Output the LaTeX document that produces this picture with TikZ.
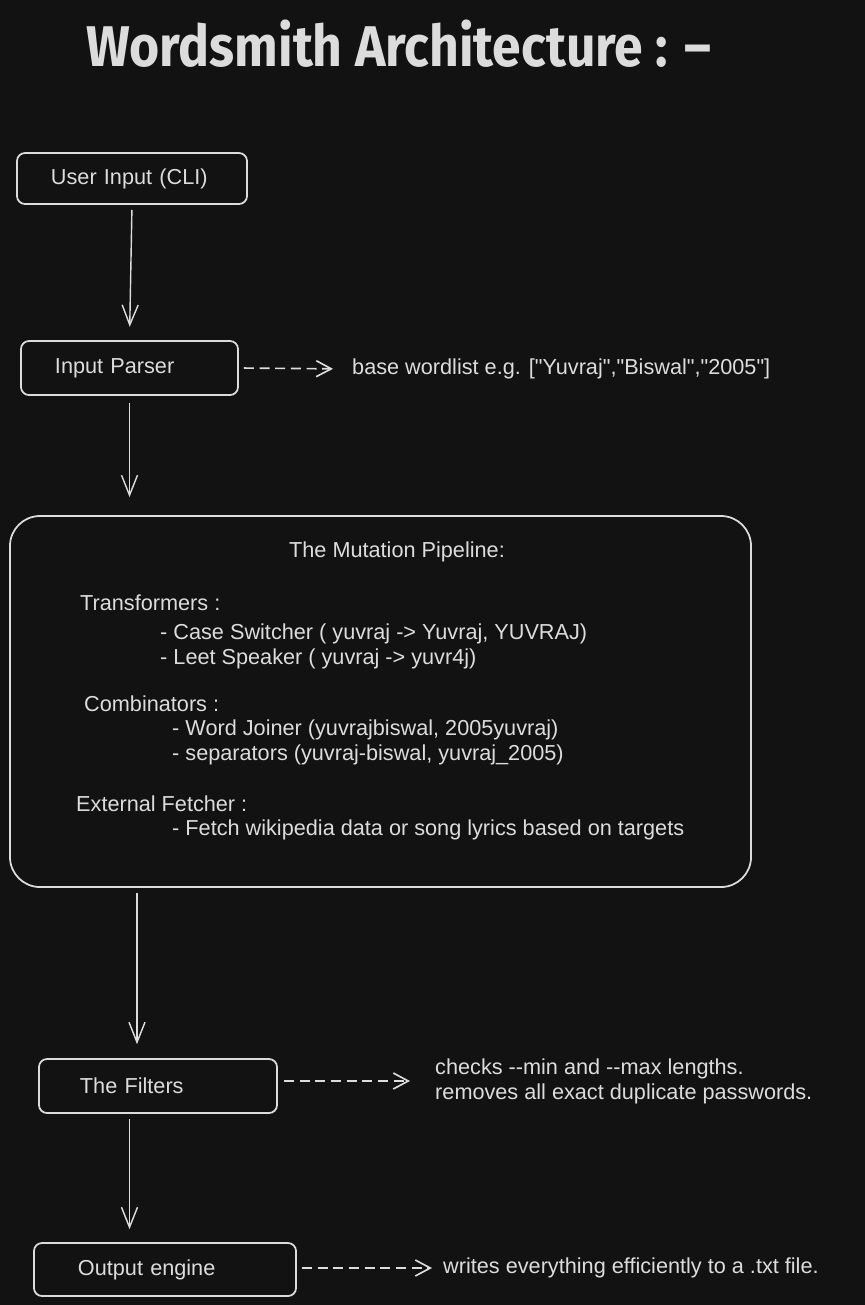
\documentclass[tikz,border=0pt]{standalone}
\usepackage{fontspec}
\setmainfont{Liberation Sans}
\newfontfamily\titlefont{Fira Sans}
\usepackage{graphicx}
\usetikzlibrary{arrows.meta}
\definecolor{bg}{HTML}{121212}
\definecolor{ink}{HTML}{DCDCDC}
\newcommand{\qq}{\textquotedbl}

\begin{document}
\begin{tikzpicture}[x=0.03cm, y=-0.03cm,
    box/.style={draw=ink, line width=1.5pt, rounded corners=0.24cm, align=left,
      inner ysep=0pt, text=ink, font=\fontsize{18.5}{21}\selectfont},
    txt/.style={anchor=west, inner sep=0pt, text=ink, font=\fontsize{18.5}{21.3}\selectfont},
    flow/.style={draw=ink, line width=1.2pt,
      -{Straight Barb[length=0.6cm, width=0.48cm, line width=1.2pt]}},
    side/.style={draw=ink, line width=1.4pt, dash pattern=on 0.3cm off 0.17cm,
      -{Straight Barb[length=0.45cm, width=0.48cm, line width=1.4pt]}}]
        % Background
        \fill[bg] (0,0) rectangle (865,1305);

        % Title
        \node[txt, font=\titlefont\bfseries\fontsize{49}{50}\selectfont] (title) at (86,44)
          {\scalebox{0.9}[1]{Wordsmith Architecture : –}};

        % Stages
        \node[box, minimum height=1.53cm, inner xsep=1.02cm, text width=4.86cm] (user) at (132,178.5) {User Input (CLI)};
        \node[box, minimum height=1.62cm, inner xsep=1.02cm, text width=4.47cm] (parser) at (129.5,368) {Input Parser};
        \node[box, minimum width=22.23cm, minimum height=11.13cm, rounded corners=0.9cm] (pipe) at (380.5,701.5) {};
        \node[box, minimum height=1.62cm, inner xsep=1.23cm, text width=4.68cm] (filters) at (158,1086) {The Filters};
        \node[box, minimum height=1.59cm, inner xsep=1.32cm, text width=5.22cm] (output) at (165,1269.5) {Output engine};

        % Pipeline contents
        \node[txt, anchor=center] (pipetitle) at (397,552) {The Mutation Pipeline:};
        \node[txt] (trans) at (80,603) {Transformers :};
        \node[txt] (caseswitch) at (160,634) {- Case Switcher ( yuvraj -> Yuvraj, YUVRAJ)};
        \node[txt] (leet) at (160,659) {- Leet Speaker ( yuvraj -> yuvr4j)};
        \node[txt] (comb) at (84,704) {Combinators :};
        \node[txt] (joiner) at (172,730) {- Word Joiner (yuvrajbiswal, 2005yuvraj)};
        \node[txt] (sep) at (172,755) {- separators (yuvraj-biswal, yuvraj\_2005)};
        \node[txt] (ext) at (76,804) {External Fetcher :};
        \node[txt] (fetch) at (172,830) {- Fetch wikipedia data or song lyrics based on targets};

        % Side notes
        \node[txt] (wordlist) at (352,369) {base wordlist e.g. [\qq Yuvraj\qq,\qq Biswal\qq,\qq 2005\qq]};
        \node[txt, align=left] (checks) at (435,1081)
          {checks -{}-min and -{}-max lengths.\\removes all exact duplicate passwords.};
        \node[txt] (writes) at (443,1268) {writes everything efficiently to a .txt file.};

        % Main flow
        \coordinate (drop) at (137,0);
        \draw[flow, shorten <=0.15cm, shorten >=0.4cm] (user.south) -- (parser.north);
        \draw[flow, shorten <=0.21cm, shorten >=0.54cm] (parser.south) -- (parser.south |- pipe.north);
        \draw[flow, shorten <=0.15cm, shorten >=0.42cm] (pipe.south -| drop) -- (filters.north -| drop);
        \draw[flow, shorten <=0.15cm, shorten >=0.39cm] (filters.south -| parser) -- (output.north -| parser);

        % Dashed outputs
        \draw[side, shorten <=0.15cm, shorten >=0.57cm] (parser.east) -- (wordlist.west);
        \draw[side, shorten <=0.18cm, shorten >=0.75cm] (filters.east |- checks.west) -- (checks.west);
        \draw[side, shorten <=0.15cm, shorten >=0.33cm] (output.east |- writes.west) -- (writes.west);
\end{tikzpicture}
\end{document}
